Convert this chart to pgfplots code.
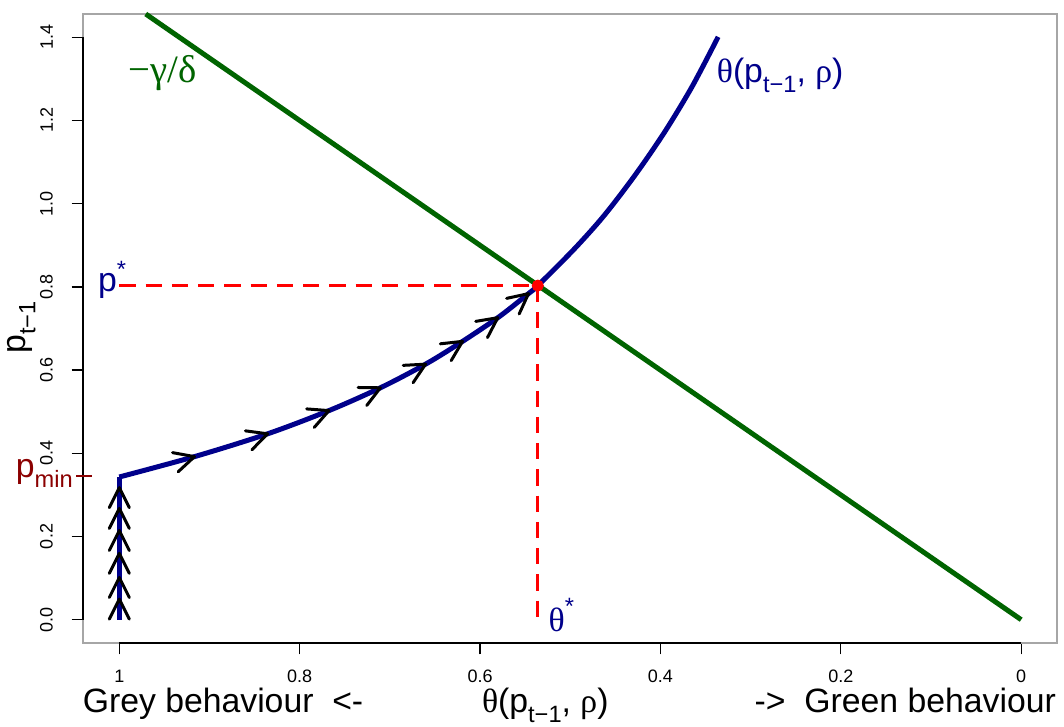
\documentclass[border=0pt]{standalone}
\usepackage{fontspec}
\setmainfont{Liberation Sans}
\newfontfamily\gr{Liberation Serif}
\usepackage{graphicx}
\usepackage{pgfplots}
\pgfplotsset{compat=1.18}
\usetikzlibrary{arrows.meta}
\definecolor{dgreen}{HTML}{006400}
\definecolor{dblue}{HTML}{00008B}
\definecolor{dred}{HTML}{8B0000}
\newcommand{\sub}[1]{\raisebox{-0.3em}{\scalebox{0.7}{#1}}}
\newcommand{\sups}[2][0.4em]{\raisebox{#1}{\scalebox{0.7}{#2}}}
\newcommand{\lbl}{\fontsize{13.5}{16}\selectfont}

\begin{document}
\begin{tikzpicture}
\path[use as bounding box] (-33.3pt,-33.6pt) rectangle (392.3pt,257.2pt);
\begin{axis}[
  at={(0,0)}, anchor=south west,
  scale only axis, width=389.6pt, height=251.6pt,
  x dir=reverse,
  xmin=-0.04, xmax=1.04, ymin=-0.056, ymax=1.456,
  xtick={0,0.2,0.4,0.6,0.8,1},
  ytick={0,0.2,0.4,0.6,0.8,1.0,1.2,1.4},
  axis line style={gray!70, line width=0.6pt},
  tick style={black, line width=0.5pt},
  tick align=outside, major tick length=4.6pt,
  xtick pos=bottom, ytick pos=left,
  ticklabel style={font=\fontsize{7.2}{8.5}\selectfont},
  /pgf/number format/assume math mode=true,
  xticklabel style={anchor=north, text height=5.2pt, text depth=0pt, inner sep=0pt},
  yticklabel style={rotate=90, anchor=south,
    /pgf/number format/.cd, fixed, fixed zerofill, precision=1},
  yticklabel shift=4pt,
  xticklabel shift=6pt,
  clip=false,
]
% R-style axis lines over the grey box
\draw[black, line width=0.6pt] (axis cs:1.04,0) -- (axis cs:1.04,1.4);
\draw[black, line width=0.6pt] (axis cs:1,-0.056) -- (axis cs:0,-0.056);

% -gamma/delta line
\addplot[dgreen, line width=2pt] coordinates {(0,0) (0.9707,1.456)};

% theta(p, rho)
\addplot[dblue, line width=2pt] coordinates {(1,0) (1,0.343)};
\addplot[dblue, line width=2pt, smooth, line join=round] coordinates {
  (1,0.343) (0.915,0.393) (0.834,0.448) (0.766,0.504) (0.709,0.559)
  (0.659,0.616) (0.618,0.671) (0.579,0.728) (0.545,0.786) (0.536,0.803)
  (0.496,0.890) (0.463,0.970) (0.429,1.066) (0.396,1.170)
  (0.365,1.281) (0.336,1.401)};

% equilibrium
\addplot[red, line width=1.2pt, dash pattern=on 6.5pt off 4pt] coordinates {(1,0.803) (0.536,0.803)};
\addplot[red, line width=1.2pt, dash pattern=on 6.5pt off 4pt] coordinates {(0.536,0.803) (0.536,0)};
\addplot[red, only marks, mark=*, mark size=2.2pt] coordinates {(0.536,0.803)};

% arrow heads
\addplot[black, line width=1.2pt, line cap=round,
  -{Straight Barb[length=8pt, width=8pt, round]},
  quiver={u=\thisrow{u}, v=\thisrow{v}}] table {
x y u v
1 0.049 0 0.004
1 0.101 0 0.004
1 0.159 0 0.004
1 0.214 0 0.004
1 0.267 0 0.004
1 0.317 0 0.004
0.91998 0.38985 -0.00498 0.00315
0.83847 0.44467 -0.00447 0.00333
0.76975 0.50067 -0.00375 0.00333
0.71221 0.55564 -0.00321 0.00336
0.66173 0.61264 -0.00273 0.00336
0.62040 0.66764 -0.00240 0.00336
0.58119 0.72455 -0.00219 0.00345
0.54694 0.78262 -0.00194 0.00338
};

% annotations
\node[dgreen, font=\fontsize{15.5}{18}\selectfont] at (axis cs:0.952,1.314) {{\gr −γ/δ}};
\node[dblue, anchor=west, font=\lbl, inner sep=0pt] at (axis cs:0.338,1.309) {{\gr θ}(p\sub{t−1}, {\gr ρ})};
\node[dblue, anchor=base east, font=\lbl, inner sep=0pt] at (axis cs:0.992,0.789) {p\sups{*}};
\node[dblue, anchor=base west, font=\lbl, inner sep=0pt] at (axis cs:0.5244,-0.029) {{\gr θ}\sups[0.52em]{*}};
\node[dred, anchor=base east, font=\lbl, inner sep=0pt] at (axis cs:1.051,0.343) {p\sub{min}};
\draw[dred, line width=1pt] (axis cs:1.0477,0.345) -- (axis cs:1.030,0.345);

% axis titles
\node[anchor=base west, font=\lbl, inner sep=0pt] at (axis cs:1.041,-0.223) {Grey behaviour\ \ <-};
\node[anchor=base, font=\lbl, inner sep=0pt] at (axis cs:0.5277,-0.223) {{\gr θ}(p\sub{t−1}, {\gr ρ})};
\node[anchor=base east, font=\lbl, inner sep=0pt] at (axis cs:-0.039,-0.223) {->\ \ Green behaviour};
\node[rotate=90, font=\lbl, inner sep=0pt] at (axis cs:1.1086,0.703) {p\sub{t−1}};
\end{axis}
\end{tikzpicture}
\end{document}
